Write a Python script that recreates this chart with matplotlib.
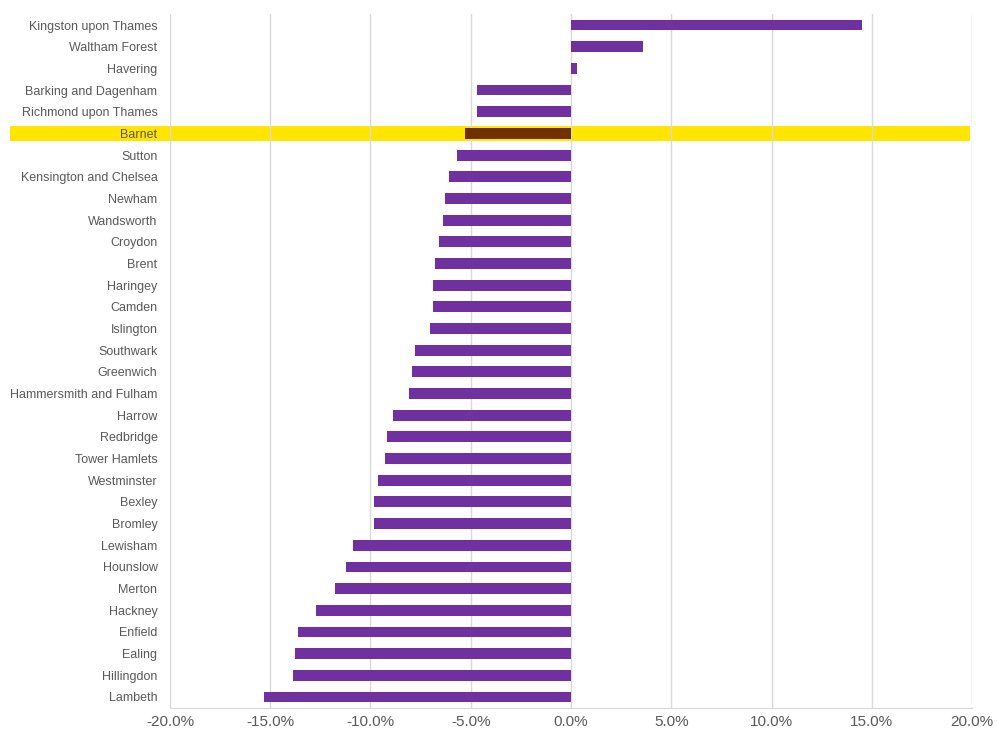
import matplotlib
matplotlib.use("Agg")
import matplotlib.pyplot as plt
from matplotlib.patches import Rectangle
from matplotlib.ticker import FuncFormatter

# boroughs, top to bottom as in the chart
boroughs = ["Kingston upon Thames", "Waltham Forest", "Havering", "Barking and Dagenham",
            "Richmond upon Thames", "Barnet", "Sutton", "Kensington and Chelsea", "Newham",
            "Wandsworth", "Croydon", "Brent", "Haringey", "Camden", "Islington", "Southwark",
            "Greenwich", "Hammersmith and Fulham", "Harrow", "Redbridge", "Tower Hamlets",
            "Westminster", "Bexley", "Bromley", "Lewisham", "Hounslow", "Merton", "Hackney",
            "Enfield", "Ealing", "Hillingdon", "Lambeth"]
change = [14.5, 3.6, 0.3, -4.7, -4.7, -5.3, -5.7, -6.1, -6.3, -6.4, -6.6, -6.8, -6.9,
          -6.9, -7.05, -7.8, -7.95, -8.1, -8.9, -9.2, -9.3, -9.65, -9.8, -9.8, -10.85,
          -11.2, -11.75, -12.7, -13.6, -13.75, -13.85, -15.3]
highlight = "Barnet"
xticks = [-20, -15, -10, -5, 0, 5, 10, 15, 20]

purple = "#7030A0"
brown = "#703000"
yellow = "#FFE500"
grey_txt = "#595959"

plt.rcParams['font.family'] = ['Liberation Sans', 'DejaVu Sans']

fig = plt.figure(figsize=(9.98, 7.4), dpi=100)
ax = fig.add_axes([0.1703, 0.0435, 0.8037, 0.9373])

n = len(boroughs)
ypos = list(range(n))
colors = [brown if b == highlight else purple for b in boroughs]
ax.barh(ypos, change, height=0.5, color=colors, zorder=3)

# yellow band behind the highlighted borough, running into the label area
hi = boroughs.index(highlight)
band = Rectangle((-28.0, hi - 0.35), 47.9, 0.7, facecolor=yellow, edgecolor="none",
                 zorder=0.3, clip_on=False)
ax.add_patch(band)

ax.set_ylim(n - 0.5, -0.5)
ax.set_xlim(-20, 20)
ax.set_xticks(xticks)
ax.xaxis.set_major_formatter(FuncFormatter(lambda v, p: "%.1f%%" % v))
ax.set_yticks(ypos)
ax.set_yticklabels(boroughs)

ax.grid(axis="x", color="#d9d9d9", linewidth=1)
ax.set_axisbelow(True)
for s in ["left", "right", "top"]:
    ax.spines[s].set_visible(False)
ax.spines["bottom"].set_color("#d9d9d9")
ax.tick_params(axis="both", length=0, colors=grey_txt)
ax.tick_params(axis="x", labelsize=11, pad=5)
ax.tick_params(axis="y", labelsize=9, pad=9)

fig.savefig("out.png", dpi=100)
